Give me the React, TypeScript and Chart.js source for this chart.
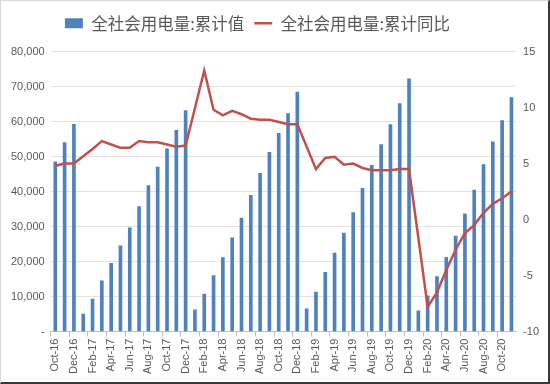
import React, { useEffect, useRef } from "react";
import { Chart, registerables } from "chart.js";

Chart.register(...registerables);

const months: string[] = [
  "Oct-16", "Nov-16", "Dec-16",
  "Jan-17", "Feb-17", "Mar-17", "Apr-17", "May-17", "Jun-17", "Jul-17", "Aug-17", "Sep-17", "Oct-17", "Nov-17", "Dec-17",
  "Jan-18", "Feb-18", "Mar-18", "Apr-18", "May-18", "Jun-18", "Jul-18", "Aug-18", "Sep-18", "Oct-18", "Nov-18", "Dec-18",
  "Jan-19", "Feb-19", "Mar-19", "Apr-19", "May-19", "Jun-19", "Jul-19", "Aug-19", "Sep-19", "Oct-19", "Nov-19", "Dec-19",
  "Jan-20", "Feb-20", "Mar-20", "Apr-20", "May-20", "Jun-20", "Jul-20", "Aug-20", "Sep-20", "Oct-20", "Nov-20",
];

const cumulativeValue: number[] = [
  48500, 54000, 59200,
  5000, 9300, 14500, 19500, 24500, 29600, 35700, 41700, 47000, 52200, 57500, 63100,
  6200, 10700, 16000, 21100, 26800, 32400, 38900, 45200, 51200, 56600, 62300, 68400,
  6500, 11300, 16900, 22400, 28100, 34000, 40900, 47500, 53400, 59100, 65100, 72200,
  5900, 10200, 15700, 21200, 27300, 33600, 40400, 47700, 54200, 60300, 66800,
];

const cumulativeYoY: (number | null)[] = [
  4.8, 5.0, 5.0,
  null, 6.3, 7.0, 6.7, 6.4, 6.4, 7.0, 6.9, 6.9, 6.7, 6.5, 6.6,
  null, 13.3, 9.8, 9.3, 9.7, 9.4, 9.0, 8.9, 8.9, 8.7, 8.5, 8.5,
  null, 4.5, 5.5, 5.6, 4.9, 5.0, 4.6, 4.4, 4.4, 4.4, 4.5, 4.5,
  null, -7.8, -6.5, -4.5, -2.7, -1.2, -0.5, 0.6, 1.4, 1.9, 2.5,
];

const barLabel = "全社会用电量:累计值";
const lineLabel = "全社会用电量:累计同比";

const TEXT = "#595959";
const FONT = "'Liberation Sans', Arial, sans-serif";

const legendMargin = {
  id: "legendMargin",
  beforeInit(chart: any) {
    const legend = chart.legend;
    if (!legend) return;
    const orig = legend.fit;
    legend.fit = function () {
      orig.call(this);
      this.height += 10;
    };
  },
  afterLayout(chart: any) {
    const legend = chart.legend;
    if (!legend) return;
    legend.left -= 18;
    legend.right -= 18;
  },
};

export default function App() {
  const canvasRef = useRef<HTMLCanvasElement | null>(null);

  useEffect(() => {
    document.body.style.margin = "0";
    const canvas = canvasRef.current;
    if (!canvas) return;
    const chart = new Chart(canvas, {
      type: "bar",
      plugins: [legendMargin],
      data: {
        labels: months,
        datasets: [
          {
            type: "bar",
            label: barLabel,
            data: cumulativeValue,
            backgroundColor: "#4F81BD",
            borderWidth: 0,
            barThickness: 3,
            yAxisID: "y",
            order: 2,
          },
          {
            type: "line",
            label: lineLabel,
            data: cumulativeYoY,
            borderColor: "#C0504D",
            backgroundColor: "#C0504D",
            borderWidth: 2.5,
            pointRadius: 0,
            tension: 0,
            spanGaps: true,
            yAxisID: "y1",
            order: 1,
          } as any,
        ],
      },
      options: {
        responsive: false,
        animation: false,
        layout: { padding: { left: 4, right: 2, top: 4, bottom: 6 } },
        plugins: {
          tooltip: { enabled: false },
          legend: {
            position: "top",
            labels: {
              color: TEXT,
              font: { family: "'Noto Sans CJK SC', sans-serif", size: 16.5 },
              usePointStyle: true,
              pointStyleWidth: 18,
              boxHeight: 10,
              padding: 10,
              generateLabels: () => [
                {
                  text: barLabel,
                  fillStyle: "#4F81BD",
                  strokeStyle: "#4F81BD",
                  lineWidth: 0,
                  pointStyle: "rect",
                  datasetIndex: 0,
                  fontColor: TEXT,
                },
                {
                  text: lineLabel,
                  fillStyle: "#C0504D",
                  strokeStyle: "#C0504D",
                  lineWidth: 2.5,
                  pointStyle: "line",
                  datasetIndex: 1,
                  fontColor: TEXT,
                },
              ],
            },
          },
        },
        scales: {
          x: {
            offset: true,
            border: { display: true, color: "#bfbfbf", width: 1 },
            grid: {
              offset: true,
              drawOnChartArea: false,
              drawTicks: true,
              tickLength: 5,
              color: (ctx: any) => (ctx.index % 2 === 0 ? "#bfbfbf" : "rgba(0,0,0,0)"),
            },
            ticks: {
              autoSkip: false,
              maxRotation: 90,
              minRotation: 90,
              color: TEXT,
              font: { family: FONT, size: 11 },
              padding: 2,
              callback: (_v: any, i: number) => (i % 2 === 0 ? months[i] : ""),
            },
          },
          y: {
            position: "left",
            min: 0,
            max: 80000,
            border: { display: false },
            grid: { color: "#e3e3e3", drawTicks: false },
            ticks: {
              stepSize: 10000,
              color: TEXT,
              padding: 6,
              font: { family: FONT, size: 11 },
              callback: (v: any) => (Number(v) === 0 ? "-" : Number(v).toLocaleString("en-US")),
            },
          },
          y1: {
            position: "right",
            min: -10,
            max: 15,
            border: { display: false },
            grid: { display: false, drawTicks: false },
            ticks: {
              stepSize: 5,
              color: TEXT,
              padding: 7,
              font: { family: FONT, size: 11 },
            },
          },
        },
      },
    });
    return () => chart.destroy();
  }, []);

  return (
    <div
      style={{
        width: 550,
        height: 384,
        boxSizing: "border-box",
        borderLeft: "1px solid #d9d9d9",
        borderTop: "1px solid #d9d9d9",
        borderRight: "2px solid #3a3a3a",
        borderBottom: "2px solid #3a3a3a",
        background: "#fff",
        overflow: "hidden",
      }}
    >
      <canvas ref={canvasRef} width={547} height={381} style={{ display: "block" }} />
    </div>
  );
}
